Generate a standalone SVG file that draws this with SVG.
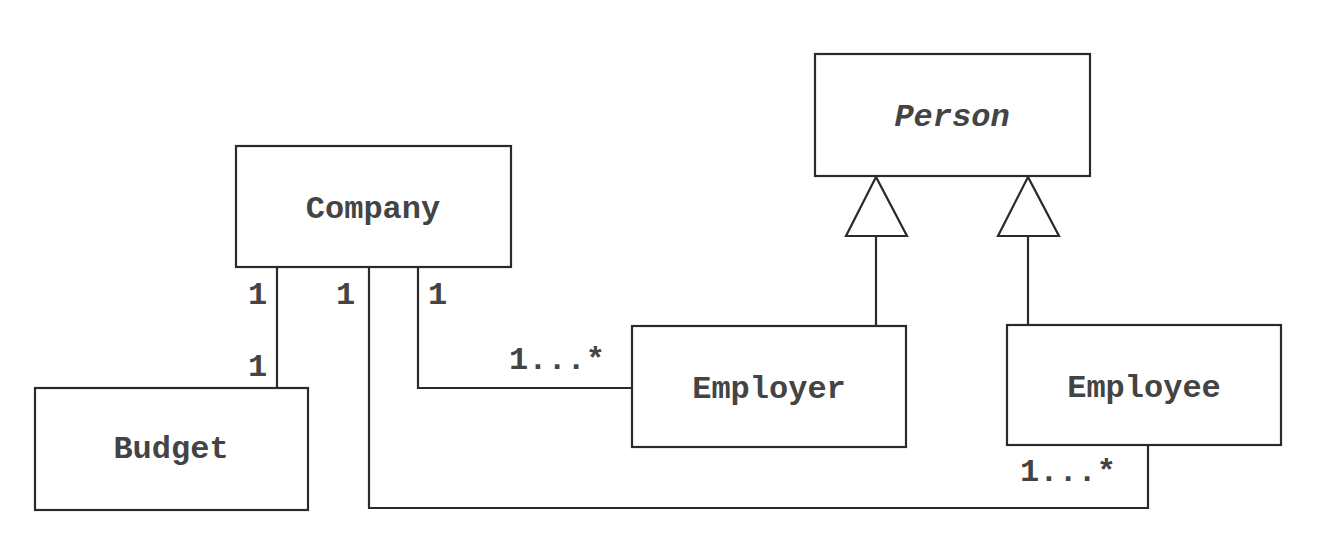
<svg xmlns="http://www.w3.org/2000/svg" width="1334" height="533" viewBox="0 0 1334 533">
<style>
.box{fill:#fff;stroke:#2a2a2a;stroke-width:2.2}
.ln{fill:none;stroke:#2a2a2a;stroke-width:2.2}
.t{font-family:"Liberation Mono","Courier New",monospace;font-weight:bold;font-size:32px;fill:#444;text-anchor:middle}
.m{font-family:"Liberation Mono","Courier New",monospace;font-weight:bold;font-size:32px;fill:#444}
</style>
<rect width="1334" height="533" fill="#fff"/>
<g id="connectors">
<path class="ln" d="M277,267 V388"/>
<path class="ln" d="M369,267 V508 H1148 V445"/>
<path class="ln" d="M418,267 V388 H632"/>
<path class="ln" d="M876,236 V326"/>
<path class="ln" d="M1028,236 V325"/>
<polygon class="box" points="876,177 846,236 907,236"/>
<polygon class="box" points="1028,177 998,236 1059,236"/>
<text class="m" x="248" y="304">1</text>
<text class="m" x="336" y="304">1</text>
<text class="m" x="428" y="304">1</text>
<text class="m" x="248" y="376">1</text>
<text class="m" x="509" y="369">1...*</text>
<text class="m" x="1020" y="481">1...*</text>
</g>
<g id="company"><rect class="box" x="236" y="146" width="275" height="121"/><text class="t" x="373" y="218">Company</text></g>
<g id="person"><rect class="box" x="815" y="54" width="275" height="122"/><text class="t" x="952" y="126" font-style="italic">Person</text></g>
<g id="budget"><rect class="box" x="35" y="388" width="273" height="122"/><text class="t" x="171" y="458">Budget</text></g>
<g id="employer"><rect class="box" x="632" y="326" width="274" height="121"/><text class="t" x="769" y="398">Employer</text></g>
<g id="employee"><rect class="box" x="1007" y="325" width="274" height="120"/><text class="t" x="1144" y="397">Employee</text></g>
</svg>
